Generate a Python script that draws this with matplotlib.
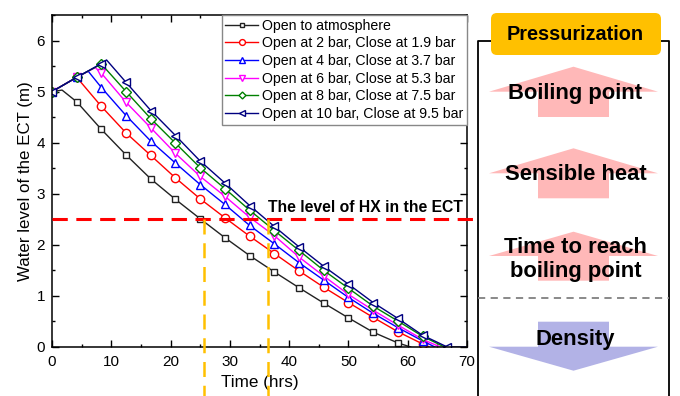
import matplotlib
matplotlib.use('Agg')
import matplotlib.pyplot as plt
from matplotlib.patches import Polygon, FancyBboxPatch
from matplotlib.ticker import MultipleLocator

plt.rcParams['font.family'] = ['Liberation Sans', 'DejaVu Sans']

# times at which the markers sit (hrs)
t_mark = [0, 4.17, 8.33, 12.5, 16.67, 20.83, 25.0, 29.17, 33.33, 37.5,
          41.67, 45.83, 50.0, 54.17, 58.33, 62.5, 66.67]

labels = ['Open to atmosphere',
          'Open at 2 bar, Close at 1.9 bar',
          'Open at 4 bar, Close at 3.7 bar',
          'Open at 6 bar, Close at 5.3 bar',
          'Open at 8 bar, Close at 7.5 bar',
          'Open at 10 bar, Close at 9.5 bar']

# water level (m) at the marker times
lvl_atm = [5.00, 4.80, 4.26, 3.76, 3.29, 2.89, 2.51, 2.14, 1.79, 1.47, 1.16, 0.86, 0.57, 0.29, 0.08]
lvl_2bar = [5.00, 5.28, 4.71, 4.19, 3.75, 3.31, 2.90, 2.53, 2.17, 1.83, 1.49, 1.17, 0.87, 0.58, 0.30, 0.06]
lvl_4bar = [5.00, 5.28, 5.08, 4.53, 4.03, 3.60, 3.18, 2.79, 2.38, 2.02, 1.65, 1.31, 0.97, 0.66, 0.38, 0.12]
lvl_6bar = [5.00, 5.28, 5.36, 4.79, 4.29, 3.79, 3.34, 2.95, 2.54, 2.18, 1.76, 1.39, 1.03, 0.72, 0.43, 0.15]
lvl_8bar = [5.00, 5.28, 5.54, 5.00, 4.47, 3.99, 3.51, 3.10, 2.68, 2.28, 1.89, 1.50, 1.15, 0.80, 0.51, 0.21]
lvl_10bar = [5.00, 5.28, 5.55, 5.18, 4.63, 4.14, 3.64, 3.21, 2.77, 2.36, 1.96, 1.58, 1.23, 0.87, 0.56, 0.23, 0.00]

# line points between markers (peak at valve opening, tank empty)
extra_atm = [(1.7, 5.03), (60.5, 0.0)]
extra_2bar = [(63.6, 0.0)]
extra_4bar = [(6.1, 5.40), (64.6, 0.0)]
extra_6bar = [(7.3, 5.47), (65.5, 0.0)]
extra_8bar = [(66.2, 0.0)]
extra_10bar = [(9.2, 5.62), (70.0, 0.0)]

hx_level = 2.5
t_cross = [25.7, 36.5]

levels = [lvl_atm, lvl_2bar, lvl_4bar, lvl_6bar, lvl_8bar, lvl_10bar]
extras = [extra_atm, extra_2bar, extra_4bar, extra_6bar, extra_8bar, extra_10bar]
colors = ['#222222', '#ff0000', '#0000ff', '#ff00ff', '#008000', '#000080']
markers = ['s', 'o', '^', 'v', 'D', '<']
msizes = [5, 6, 6, 6, 5, 6]

fig = plt.figure(figsize=(6.8, 3.96), dpi=100)
ax = fig.add_axes([52 / 680, 1 - 347 / 396, 415 / 680, 332 / 396])

for lv, ex, c, m, ms, lab in zip(levels, extras, colors, markers, msizes, labels):
    pts = [(t, y, True) for t, y in zip(t_mark, lv)] + [(t, y, False) for t, y in ex]
    pts.sort()
    tt = [p[0] for p in pts]
    yy = [p[1] for p in pts]
    idx = [i for i, p in enumerate(pts) if p[2]]
    ax.plot(tt, yy, color=c, lw=1.0, marker=m, markevery=idx, ms=ms,
            mfc='white', mec=c, mew=1.0, label=lab)

ax.plot([0, 71], [hx_level, hx_level], color='#ff0000', lw=2.2,
        dashes=(5, 2.8), clip_on=False, zorder=5)
for tc in t_cross:
    ax.plot([tc, tc], [hx_level, -1.0], color='#ffc000', lw=1.8,
            dashes=(6, 3.5), clip_on=False, zorder=5)
ax.text(36.5, 2.73, 'The level of HX in the ECT', fontsize=11.3,
        fontweight='bold', ha='left', va='center')

ax.set_xlim(0, 70)
ax.set_ylim(0, 6.5)
ax.xaxis.set_major_locator(MultipleLocator(10))
ax.xaxis.set_minor_locator(MultipleLocator(5))
ax.yaxis.set_major_locator(MultipleLocator(1))
ax.yaxis.set_minor_locator(MultipleLocator(0.5))
ax.tick_params(which='both', direction='in', top=True, right=True, labelsize=11)
ax.tick_params(which='major', length=5, width=1)
ax.tick_params(which='minor', length=2.5, width=1)
ax.tick_params(axis='x', pad=6)
ax.tick_params(axis='y', pad=5)
for s in ax.spines.values():
    s.set_linewidth(1.1)
ax.set_xlabel('Time (hrs)', fontsize=12.3, labelpad=4)
ax.set_ylabel('Water level of the ECT (m)', fontsize=12.2, labelpad=2.5)

leg = ax.legend(loc='upper right', bbox_to_anchor=(1, 1), borderaxespad=0,
                fontsize=10.2, fancybox=False, edgecolor='#888888',
                handlelength=2.3, handletextpad=0.3, labelspacing=0.26,
                borderpad=0.25, markerscale=0.7, framealpha=1)
leg.get_frame().set_linewidth(1.0)

# right-hand panel
pax = fig.add_axes([0, 0, 1, 1])
pax.set_xlim(0, 680)
pax.set_ylim(396, 0)
pax.axis('off')

pax.plot([478, 478, 669, 669], [396, 41, 41, 396], color='black', lw=1.3,
         clip_on=False)
pax.add_patch(FancyBboxPatch((491, 13), 170, 42,
                             boxstyle='round,pad=0,rounding_size=6',
                             fc='#ffc000', ec='none', zorder=3))
pax.text(575.5, 34, 'Pressurization', fontsize=14.3, fontweight='bold',
         ha='center', va='center', zorder=4)

pink = '#ffb8b8'
for top, base, bot in [(66.7, 91.7, 117), (148.3, 173.3, 198.3), (231.7, 256, 280.7)]:
    pax.add_patch(Polygon([(489, base), (573.5, top), (658, base), (609, base),
                           (609, bot), (538, bot), (538, base)],
                          closed=True, fc=pink, ec='none'))
pax.add_patch(Polygon([(538, 321.7), (609, 321.7), (609, 346.7), (658, 346.7),
                       (573.5, 370.7), (489, 346.7), (538, 346.7)],
                      closed=True, fc='#b2b2e6', ec='none'))

pax.plot([478, 669], [298.3, 298.3], color='#808080', lw=1.3, dashes=(4, 3))

pax.text(575.5, 93.5, 'Boiling point', fontsize=15.8, fontweight='bold',
         ha='center', va='center')
pax.text(575.5, 174.5, 'Sensible heat', fontsize=15.8, fontweight='bold',
         ha='center', va='center')
pax.text(575.5, 259.5, 'Time to reach\nboiling point', fontsize=15.8,
         fontweight='bold', ha='center', va='center', linespacing=1.15)
pax.text(575.5, 340, 'Density', fontsize=15.8, fontweight='bold',
         ha='center', va='center')

fig.savefig('out.png', dpi=100)
